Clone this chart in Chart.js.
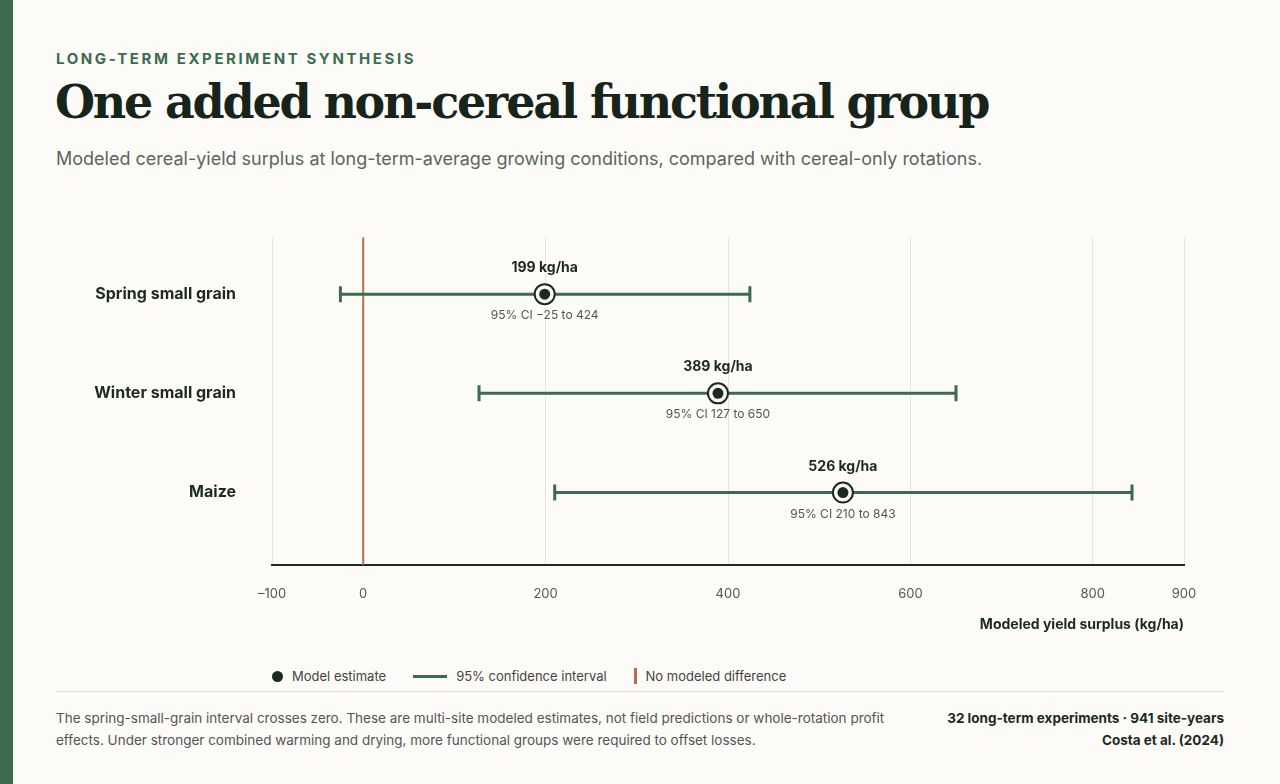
<!DOCTYPE html>
<html><head><meta charset="utf-8">
<script src="https://cdn.jsdelivr.net/npm/chart.js@4"></script>
<style>
body{margin:0;width:1280px;height:784px;background:#fcfbf7;font-family:Inter,"Noto Sans",sans-serif;position:relative;overflow:hidden;color:#1d2a22}
#bar{position:absolute;left:0;top:0;width:13px;height:784px;background:#3d6b4f}
#kicker{position:absolute;left:56px;top:49px;font-size:15px;font-weight:700;letter-spacing:2.6px;color:#3d6b4f}
#title{position:absolute;left:55px;top:75px;font-family:"DejaVu Serif","Liberation Serif",serif;font-weight:700;font-size:46px;letter-spacing:-2.2px;color:#17241c}
#sub{position:absolute;left:56px;top:148px;font-size:18px;color:#5d655f}
#wrap{position:absolute;left:56px;top:200px;width:1168px;height:437px}
#legend{position:absolute;left:272px;top:668px;font-size:13px;color:#444;display:flex;align-items:center}
#legend span{display:inline-flex;align-items:center;margin-right:27px}
#rule{position:absolute;left:56px;top:691px;width:1168px;height:1px;background:#e2e0da}
#note{position:absolute;left:56px;top:707px;font-size:13.5px;line-height:22px;color:#555}
#src{position:absolute;right:56px;top:707px;font-size:13.5px;line-height:22px;font-weight:700;text-align:right;color:#1d2a22}
</style></head><body>
<div id="bar"></div>
<div id="kicker">LONG-TERM EXPERIMENT SYNTHESIS</div>
<div id="title">One added non-cereal functional group</div>
<div id="sub">Modeled cereal-yield surplus at long-term-average growing conditions, compared with cereal-only rotations.</div>
<div id="wrap"><canvas id="c"></canvas></div>
<div id="legend">
<span><i style="display:inline-block;width:11px;height:11px;border-radius:50%;background:#1d2a22;margin-right:9px"></i>Model estimate</span>
<span><i style="display:inline-block;width:34px;height:3px;background:#3d6b4f;margin-right:9px"></i>95% confidence interval</span>
<span><i style="display:inline-block;width:3px;height:16px;background:#b0704f;margin-right:9px"></i>No modeled difference</span>
</div>
<div id="rule"></div>
<div id="note">The spring-small-grain interval crosses zero. These are multi-site modeled estimates, not field predictions or whole-rotation profit<br>effects. Under stronger combined warming and drying, more functional groups were required to offset losses.</div>
<div id="src">32 long-term experiments · 941 site-years<br>Costa et al. (2024)</div>
<script>
const categories = ['Spring small grain', 'Winter small grain', 'Maize'];
const estimates = [199, 389, 526];
const ciLow = [-25, 127, 210];
const ciHigh = [424, 650, 843];
const ciText = ['95% CI \u221225 to 424', '95% CI 127 to 650', '95% CI 210 to 843'];
const xTicks = [-100, 0, 200, 400, 600, 800, 900];

const green = '#3d6b4f', dark = '#1d2a22';

const bars = {
  id: 'bars',
  afterDatasetsDraw(chart) {
    const {ctx, scales: {x, y}, chartArea: a} = chart;
    ctx.save();
    // zero reference line
    ctx.strokeStyle = '#b0704f'; ctx.lineWidth = 2;
    ctx.beginPath(); ctx.moveTo(x.getPixelForValue(0), a.top); ctx.lineTo(x.getPixelForValue(0), a.bottom); ctx.stroke();
    categories.forEach((c, i) => {
      const py = y.getPixelForValue(i);
      const x1 = x.getPixelForValue(ciLow[i]), x2 = x.getPixelForValue(ciHigh[i]), xm = x.getPixelForValue(estimates[i]);
      ctx.strokeStyle = green; ctx.lineWidth = 3;
      ctx.beginPath();
      ctx.moveTo(x1, py); ctx.lineTo(x2, py);
      ctx.moveTo(x1, py - 8); ctx.lineTo(x1, py + 8);
      ctx.moveTo(x2, py - 8); ctx.lineTo(x2, py + 8);
      ctx.stroke();
      ctx.fillStyle = '#fcfbf7'; ctx.strokeStyle = dark; ctx.lineWidth = 2;
      ctx.beginPath(); ctx.arc(xm, py, 10, 0, Math.PI * 2); ctx.fill(); ctx.stroke();
      ctx.fillStyle = dark;
      ctx.beginPath(); ctx.arc(xm, py, 5.5, 0, Math.PI * 2); ctx.fill();
      ctx.textAlign = 'center';
      ctx.font = '700 14px Inter';
      ctx.fillText(estimates[i] + ' kg/ha', xm, py - 22);
      ctx.font = '12px Inter'; ctx.fillStyle = '#555';
      ctx.fillText(ciText[i], xm, py + 25);
    });
    ctx.restore();
  }
};

new Chart(document.getElementById('c'), {
  type: 'scatter',
  data: {
    datasets: [{
      data: estimates.map((v, i) => ({x: v, y: i})),
      pointRadius: 0
    }]
  },
  plugins: [bars],
  options: {
    responsive: true,
    maintainAspectRatio: false,
    animation: false,
    layout: {padding: {top: 22, right: 40}},
    plugins: {legend: {display: false}, tooltip: {enabled: false}},
    scales: {
      x: {
        min: -100, max: 900,
        afterBuildTicks: s => { s.ticks = xTicks.map(v => ({value: v})); },
        afterFit: s => { s.height = 72; },
        ticks: {color: '#555', font: {size: 13, family: 'Inter'}, padding: 21,
          callback: v => v < 0 ? '\u2013' + Math.abs(v) : v},
        grid: {color: '#e6e4df', drawTicks: false},
        border: {color: '#1d2a22', width: 2},
        title: {display: true, text: 'Modeled yield surplus (kg/ha)', align: 'end',
          color: dark, font: {size: 14, weight: '700', family: 'Inter'}, padding: {top: 12}}
      },
      y: {
        min: -0.57, max: 2.73, reverse: true,
        afterBuildTicks: s => { s.ticks = [0, 1, 2].map(v => ({value: v})); },
        afterFit: s => { s.width = 216; },
        ticks: {color: dark, font: {size: 16, weight: '700', family: 'Inter'}, padding: 28,
          callback: v => categories[v]},
        grid: {display: false},
        border: {display: false}
      }
    }
  }
});
</script>
</body></html>
